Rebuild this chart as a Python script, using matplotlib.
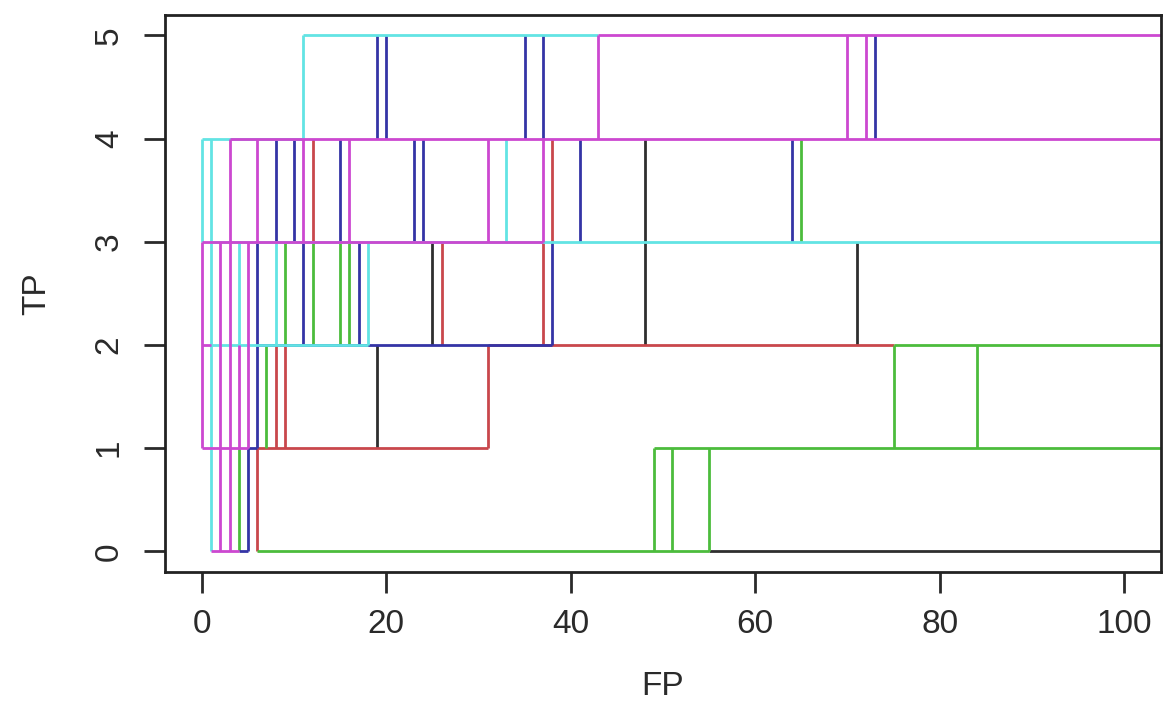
import matplotlib
matplotlib.use("Agg")
import matplotlib.pyplot as plt

# R base palette, drawn in this order (later colours paint over earlier ones)
colors = {
    "black":   "#2f2f2f",
    "red":     "#c9474c",
    "green":   "#4cbc3c",
    "blue":    "#3434a6",
    "cyan":    "#62e4e4",
    "magenta": "#cc48d0",
}
order = ["black", "red", "green", "blue", "cyan", "magenta"]

# vertical steps: (FP, TP from, TP to)
black_v = [(19, 1, 2), (25, 2, 3), (48, 2, 4), (71, 2, 3)]
red_v = [(6, 0, 1), (8, 1, 2), (9, 1, 2), (12, 3, 4), (26, 2, 3),
         (31, 1, 2), (37, 2, 3), (38, 3, 4)]
green_v = [(4, 0, 1), (7, 1, 2), (9, 2, 3), (12, 2, 3), (15, 2, 3),
           (16, 2, 3), (49, 0, 1), (51, 0, 1), (55, 0, 1), (65, 3, 4),
           (75, 1, 2), (84, 1, 2)]
blue_v = [(5, 0, 1), (6, 1, 3), (8, 3, 4), (10, 3, 4), (11, 2, 3),
          (15, 3, 4), (17, 2, 3), (19, 4, 5), (20, 4, 5), (23, 3, 4),
          (24, 3, 4), (35, 4, 5), (37, 4, 5), (38, 2, 3), (41, 3, 4),
          (64, 3, 4), (73, 4, 5)]
cyan_v = [(0, 3, 4), (1, 0, 4), (4, 2, 3), (8, 2, 3), (11, 4, 5),
          (18, 2, 3), (33, 3, 4)]
magenta_v = [(0, 1, 3), (2, 0, 3), (3, 0, 4), (4, 1, 2), (5, 1, 3),
             (6, 3, 4), (11, 3, 4), (16, 3, 4), (31, 3, 4), (37, 3, 4),
             (43, 4, 5), (70, 4, 5), (72, 4, 5)]

# horizontal runs: (TP, FP from, FP to)
black_h = [(0, 55, 110)]
red_h = [(1, 6, 31), (2, 31, 75)]
green_h = [(0, 6, 55), (1, 49, 110), (2, 75, 110)]
blue_h = [(0, 4, 5), (1, 5, 6), (2, 6, 38)]
cyan_h = [(4, 0, 11), (5, 11, 43), (3, 1, 110), (2, 1, 18)]
magenta_h = [(0, 1, 4), (1, 0, 5), (2, 0, 1), (3, 0, 37), (4, 3, 110),
             (5, 43, 110)]

verticals = {"black": black_v, "red": red_v, "green": green_v,
             "blue": blue_v, "cyan": cyan_v, "magenta": magenta_v}
horizontals = {"black": black_h, "red": red_h, "green": green_h,
               "blue": blue_h, "cyan": cyan_h, "magenta": magenta_h}

plt.rcParams["font.family"] = ["Liberation Sans", "DejaVu Sans"]

fig = plt.figure(figsize=(11.63, 7.07), dpi=100)
ax = fig.add_axes([0.1419, 0.191, 0.8564, 0.788])

lw = 2.0
for name in order:
    c = colors[name]
    h = horizontals[name]
    if h:
        ax.hlines([s[0] for s in h], [s[1] for s in h], [s[2] for s in h],
                  colors=c, linewidth=lw)
    v = verticals[name]
    if v:
        ax.vlines([s[0] for s in v], [s[1] for s in v], [s[2] for s in v],
                  colors=c, linewidth=lw)

ax.set_xlim(-4, 104)
ax.set_ylim(-0.2, 5.2)
ax.set_xticks([0, 20, 40, 60, 80, 100])
ax.set_yticks([0, 1, 2, 3, 4, 5])
ax.tick_params(direction="out", length=15, width=2, labelsize=24,
               colors="#2a2a2a")
ax.tick_params(axis="x", pad=12)
ax.tick_params(axis="y", pad=14)
for lab in ax.get_yticklabels():
    lab.set_rotation(90)
    lab.set_va("center")
for sp in ax.spines.values():
    sp.set_linewidth(2)
    sp.set_color("#222222")

ax.set_xlabel("FP", fontsize=24, labelpad=22, color="#2a2a2a")
ax.set_ylabel("TP", fontsize=24, labelpad=30, color="#2a2a2a")

fig.savefig("out.png", dpi=100)
